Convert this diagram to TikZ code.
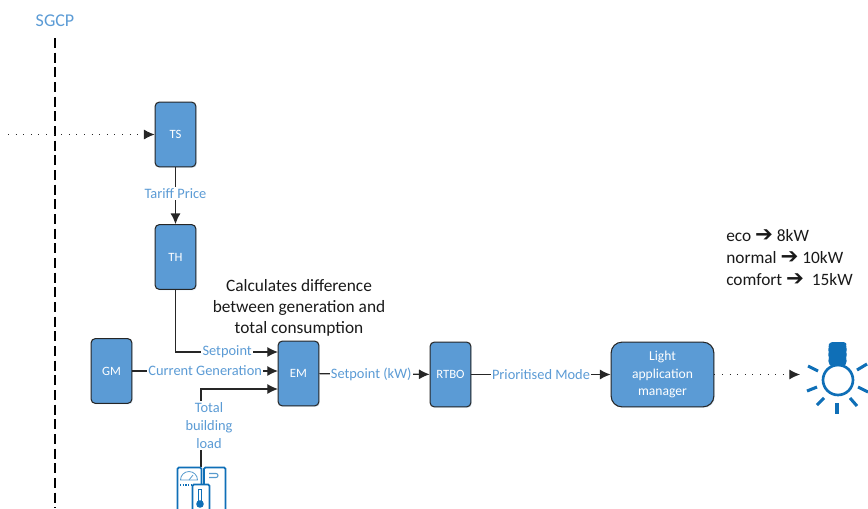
\documentclass[tikz,border=0pt]{standalone}
\usepackage{fontspec}
\setmainfont{Carlito}
\newfontfamily\arrowfont{DejaVu Sans}
\usetikzlibrary{arrows.meta, shadows, positioning}
\definecolor{boxBlue}{HTML}{5B9BD5}
\definecolor{iconBlue}{HTML}{0F6FB7}
\tikzset{
    unitBox/.style={rectangle, draw=black!85, line width=0.8pt, fill=boxBlue, rounded corners=3pt, text=white, font=\fontsize{9.5}{11}\selectfont, minimum width=30.5pt, minimum height=48.5pt, inner sep=0pt, align=center, drop shadow={shadow xshift=0.8pt, shadow yshift=-0.8pt, opacity=0.18, fill=boxBlue}},
    link/.style={-{Latex[length=8pt, width=7.5pt]}, line width=0.9pt, black!85},
    dotLink/.style={-{Latex[length=8pt, width=7.5pt]}, line width=0.7pt, black!85, dash pattern=on 0.7pt off 5pt},
    linkText/.style={fill=white, inner sep=1pt, text=boxBlue, font=\fontsize{10.8}{13.5}\selectfont, align=center},
    noteText/.style={inner sep=0pt, text=black!90, font=\fontsize{13}{15.7}\selectfont, align=center},
    iconLine/.style={draw=iconBlue, line width=1.25pt},
    ray/.style={draw=iconBlue, line width=2.3pt},
}
\newcommand{\drawLink}[4][0.5]{
    \draw[link] (#2) -- node[linkText, pos=#1] {#4} (#3);
}
\newcommand{\modeArrow}{{\arrowfont\bfseries\fontsize{16}{16}\selectfont\char"2794}}
\begin{document}
\begin{tikzpicture}[x=0.75pt, y=-0.75pt]
        \useasboundingbox (0,0) rectangle (868,508);

        % boundary
        \node[text=boxBlue, inner sep=0pt, font=\fontsize{13.5}{15}\selectfont] (SGCP) at (55,21) {SGCP};
        \coordinate (sgcpEnd) at (55,508);
        \draw[line width=0.85pt, dash pattern=on 7.5pt off 3.5pt] (55,38) -- (sgcpEnd);

        % units
        \node[unitBox] (TS) at (175.5,134.5) {TS};
        \node[unitBox] (TH) at (175.5,257) {TH};
        \node[unitBox] (GM) at (111.5,371) {GM};
        \node[unitBox] (EM) at (298.5,373.5) {EM};
        \node[unitBox] (RTBO) at (450.5,374.5) {RTBO};
        \node[unitBox, minimum width=77pt, rounded corners=8pt, font=\fontsize{10.2}{13}\selectfont] (LAM) at (662.5,374.5) {Light\\application\\manager};

        % free ends
        \coordinate (extIn) at (8,134.5);
        \coordinate (lampIn) at (800,374.5);
        \coordinate (inSet) at (278,352);
        \coordinate (inGen) at (278,371);
        \coordinate (inLoad) at (278,389);
        \coordinate (loadBend) at (201,389);
        \coordinate (loadOut) at (201,467);

        % connectors
        \draw[dotLink] (extIn) -- (TS.west);
        \drawLink[0.46]{TS}{TH}{Tariff Price}
        \draw[link] (TH.south) |- node[linkText, pos=0.752] {Setpoint} (inSet);
        \draw[link] (GM.east |- inGen) -- node[linkText, pos=0.5] {Current Generation} (inGen);
        \draw[link] (loadOut) -- (loadBend) -- (inLoad);
        \node[linkText] (loadText) at (209,425.5) {Total\\building\\load};
        \drawLink[0.47]{EM}{RTBO}{Setpoint (kW)}
        \drawLink{RTBO}{LAM}{Prioritised Mode}
        \draw[dotLink] (LAM.east) -- (lampIn);

        % notes
        \node[noteText] (diffNote) at (299,307.5) {Calculates difference\\between generation and\\total consumption};
        \node[noteText, font=\fontsize{13}{16.2}\selectfont, align=left, anchor=west] (modeNote) at (726,257.5) {eco \modeArrow{} 8kW\\normal \modeArrow{} 10kW\\comfort \modeArrow\ \ 15kW};

        % building load icon
        \begin{scope}
            \clip (170,460) rectangle (232,508);
            \draw[iconLine, rounded corners=1pt] (177.5,520) -- (177.5,467.5) -- (201.5,467.5) -- (201.5,484);
            \draw[iconLine, rounded corners=1pt] (204,484) -- (204,467.5) -- (225.5,467.5) -- (225.5,520);
            \draw[iconLine, rounded corners=1pt, fill=white] (192.5,520) -- (192.5,484.5) -- (209.5,484.5) -- (209.5,520);
            \draw[iconBlue!70, line width=0.6pt] (180.5,480) arc (180:360:8.5) -- cycle;
            \draw[iconBlue!70, line width=0.6pt] (189,480) -- (193,475);
            \draw[iconBlue, line width=1pt, dash pattern=on 1pt off 1pt] (180,485) -- (192,485);
            \draw[iconBlue!70, line width=0.8pt] (209,473.5) -- (216,473.5) arc (-90:90:2) -- (209,477.5);
            \draw[iconBlue, line width=0.7pt] (198.5,502) -- (198.5,489) -- (201.5,489) -- (201.5,502);
            \fill[iconBlue] (200,504) circle (3.8);
        \end{scope}

        % lamp icon
        \draw[iconBlue, line width=2pt] (838,380) circle (15);
        \fill[iconBlue, rounded corners=1pt] (831,342) -- (845,342) -- (847,345) -- (845.5,347) -- (847.5,350) -- (845.5,352) -- (847.5,355) -- (845.5,357) -- (847,360) -- (845,366) -- (830,366) -- (828,360) -- (829.5,357) -- (827.5,355) -- (829.5,352) -- (827.5,350) -- (829.5,347) -- (828,345) -- cycle;
        \foreach \xa/\ya/\xb/\yb in {808/366/818/371, 807/391/817/387, 817/405/824/398, 837/403/837/414, 850/398/857/406, 858/387/868/392, 857/370/867/364}
            \draw[ray] (\xa,\ya) -- (\xb,\yb);
    \end{tikzpicture}
\end{document}
